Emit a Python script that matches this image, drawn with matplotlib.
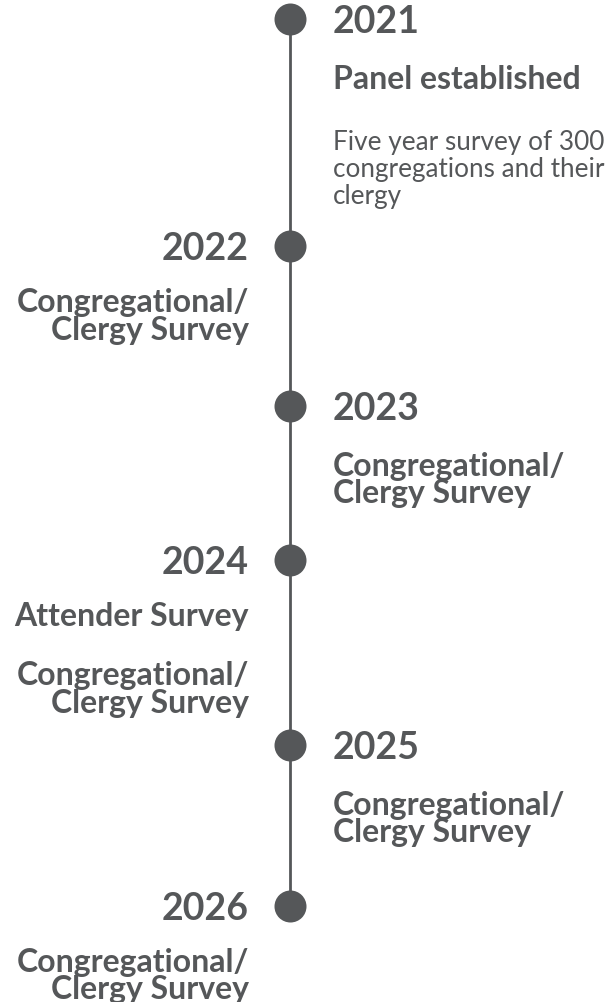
import matplotlib
matplotlib.use("Agg")
import matplotlib.pyplot as plt
from matplotlib import font_manager

# ---------------- data ----------------
years = ["2021", "2022", "2023", "2024", "2025", "2026"]
sides = ["right", "left", "right", "left", "right", "left"]
headings = [
    ["Panel established"],
    ["Congregational/\nClergy Survey"],
    ["Congregational/\nClergy Survey"],
    ["Attender Survey", "Congregational/\nClergy Survey"],
    ["Congregational/\nClergy Survey"],
    ["Congregational/\nClergy Survey"],
]
descriptions = [
    "Five year survey of 300\ncongregations and their\nclergy",
    "", "", "", "", "",
]

# ---------------- layout ----------------
W, H, DPI = 608, 1003, 100
COLOR = "#555759"
first_dot = 20
gaps = [227, 160, 154, 185, 161]      # vertical layout spacing between dots (px)
line_x = 290
right_x, left_x = 333, 249
year_off = 13
head_off = {"right": 69, "left": 65}
line_step = 27.5
para_step = 59

fams = {f.name for f in font_manager.fontManager.ttflist}
FONT = "Lato" if "Lato" in fams else "DejaVu Sans"

fig = plt.figure(figsize=(W / DPI, H / DPI), dpi=DPI)
fig.patch.set_facecolor("white")
ax = fig.add_axes([0, 0, 1, 1])
ax.set_xlim(0, W)
ax.set_ylim(H, 0)
ax.axis("off")

ys = [first_dot]
for g in gaps:
    ys.append(ys[-1] + g)

ax.plot([line_x, line_x], [ys[0], ys[-1]], color=COLOR, lw=2.0,
        solid_capstyle="butt", zorder=1)
ax.scatter([line_x] * len(ys), ys, s=(32 * 72 / DPI) ** 2, color=COLOR,
           zorder=2, linewidths=0)

for y, yr, side, heads, desc in zip(ys, years, sides, headings, descriptions):
    x = right_x if side == "right" else left_x
    ha = "left" if side == "right" else "right"
    ax.text(x, y + year_off, yr, ha=ha, va="baseline", fontsize=27,
            fontweight="bold", family=FONT, color=COLOR)
    b = y + head_off[side]
    first = True
    for para in heads:
        if not first:
            b += para_step
        first = False
        lines = para.split("\n")
        for i, ln in enumerate(lines):
            ax.text(x, b, ln, ha=ha, va="baseline", fontsize=23,
                    fontweight="bold", family=FONT, color=COLOR)
            if i < len(lines) - 1:
                b += line_step
    if desc:
        b += para_step + 2
        lines = desc.split("\n")
        for i, ln in enumerate(lines):
            ax.text(x, b, ln, ha=ha, va="baseline", fontsize=18.8,
                    fontweight="normal", family=FONT, color=COLOR)
            if i < len(lines) - 1:
                b += line_step - 0.5

fig.savefig("out.png", dpi=DPI, facecolor="white")
